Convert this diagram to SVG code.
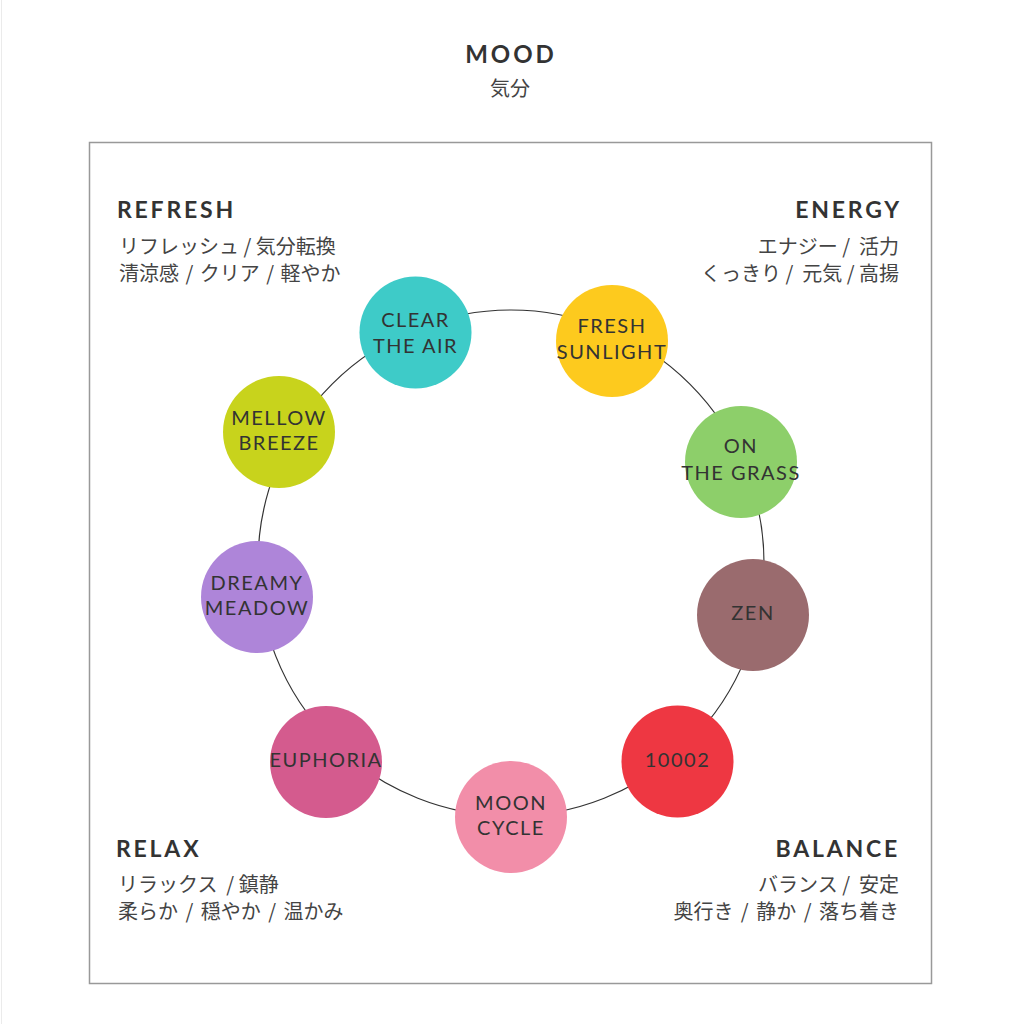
<svg xmlns="http://www.w3.org/2000/svg" width="1020" height="1024" viewBox="0 0 1020 1024">
<style>
.ttl{font-family:Lato,"Noto Sans",sans-serif;font-weight:700;font-size:24px;letter-spacing:3px;fill:#333}
.hd{font-family:Lato,"Noto Sans",sans-serif;font-weight:700;font-size:23px;letter-spacing:2.8px;fill:#333}
.jp{font-family:"Noto Sans CJK JP","Noto Sans",sans-serif;font-size:20px;fill:#444;white-space:pre}
.ws{word-spacing:3px}
.lb{font-family:Lato,"Noto Sans",sans-serif;font-size:20px;letter-spacing:1.5px;fill:#333;text-anchor:middle}
.r{text-anchor:end}
.c{text-anchor:middle}
</style>
<rect width="1020" height="1024" fill="#fff"/>
<line x1="1.5" y1="0" x2="1.5" y2="1024" stroke="#ebebeb" stroke-width="1"/>
<rect x="89.5" y="142.5" width="842" height="841" fill="none" stroke="#999" stroke-width="1.5"/>
<g id="title">
<text class="ttl c" x="511" y="63">MOOD</text>
<text class="jp c" x="510" y="96">気分</text>
</g>
<g id="refresh">
<text class="hd" x="117" y="218">REFRESH</text>
<text class="jp" x="119" y="254">リフレッシュ / 気分転換</text>
<text class="jp" x="119" y="281" style="word-spacing:2px">清涼感 / クリア / 軽やか</text>
</g>
<g id="energy">
<text class="hd r" x="902" y="218">ENERGY</text>
<text class="jp r" x="899" y="254">エナジー /  活力</text>
<text class="jp r" x="899" y="281">くっきり /  元気 / 高揚</text>
</g>
<g id="relax">
<text class="hd" x="116" y="857">RELAX</text>
<text class="jp" x="118" y="892">リラックス  / 鎮静</text>
<text class="jp ws" x="118" y="919">柔らか / 穏やか / 温かみ</text>
</g>
<g id="balance">
<text class="hd r" x="900" y="857">BALANCE</text>
<text class="jp r" x="899" y="892">バランス /  安定</text>
<text class="jp r ws" x="899" y="919">奥行き / 静か / 落ち着き</text>
</g>
<g id="connectors">
<circle cx="511" cy="563" r="253" fill="none" stroke="#333" stroke-width="1.2"/>
</g>
<g id="clear-the-air">
<circle cx="415.5" cy="332.5" r="56" fill="#3ECBC8"/>
<text class="lb" x="415.5" y="327">CLEAR</text>
<text class="lb" x="415.5" y="353">THE AIR</text>
</g>
<g id="fresh-sunlight">
<circle cx="612" cy="341" r="56" fill="#FDCA1E"/>
<text class="lb" x="612" y="333">FRESH</text>
<text class="lb" x="612" y="359">SUNLIGHT</text>
</g>
<g id="on-the-grass">
<circle cx="741" cy="462" r="56" fill="#8DCF6A"/>
<text class="lb" x="741" y="453">ON</text>
<text class="lb" x="741" y="480">THE GRASS</text>
</g>
<g id="zen">
<circle cx="753" cy="615" r="56" fill="#9A6B6E"/>
<text class="lb" x="753" y="620">ZEN</text>
</g>
<g id="n10002">
<circle cx="677.5" cy="761.5" r="56" fill="#EE3742"/>
<text class="lb" x="677.5" y="767">10002</text>
</g>
<g id="moon-cycle">
<circle cx="511" cy="817" r="56" fill="#F28EA9"/>
<text class="lb" x="511" y="810">MOON</text>
<text class="lb" x="511" y="835">CYCLE</text>
</g>
<g id="euphoria">
<circle cx="326" cy="762" r="56" fill="#D45B8E"/>
<text class="lb" x="326" y="767">EUPHORIA</text>
</g>
<g id="dreamy-meadow">
<circle cx="257" cy="597" r="56" fill="#AE85D9"/>
<text class="lb" x="257" y="590">DREAMY</text>
<text class="lb" x="257" y="615">MEADOW</text>
</g>
<g id="mellow-breeze">
<circle cx="279" cy="432" r="56" fill="#C8D31C"/>
<text class="lb" x="279" y="425">MELLOW</text>
<text class="lb" x="279" y="450">BREEZE</text>
</g>
</svg>
